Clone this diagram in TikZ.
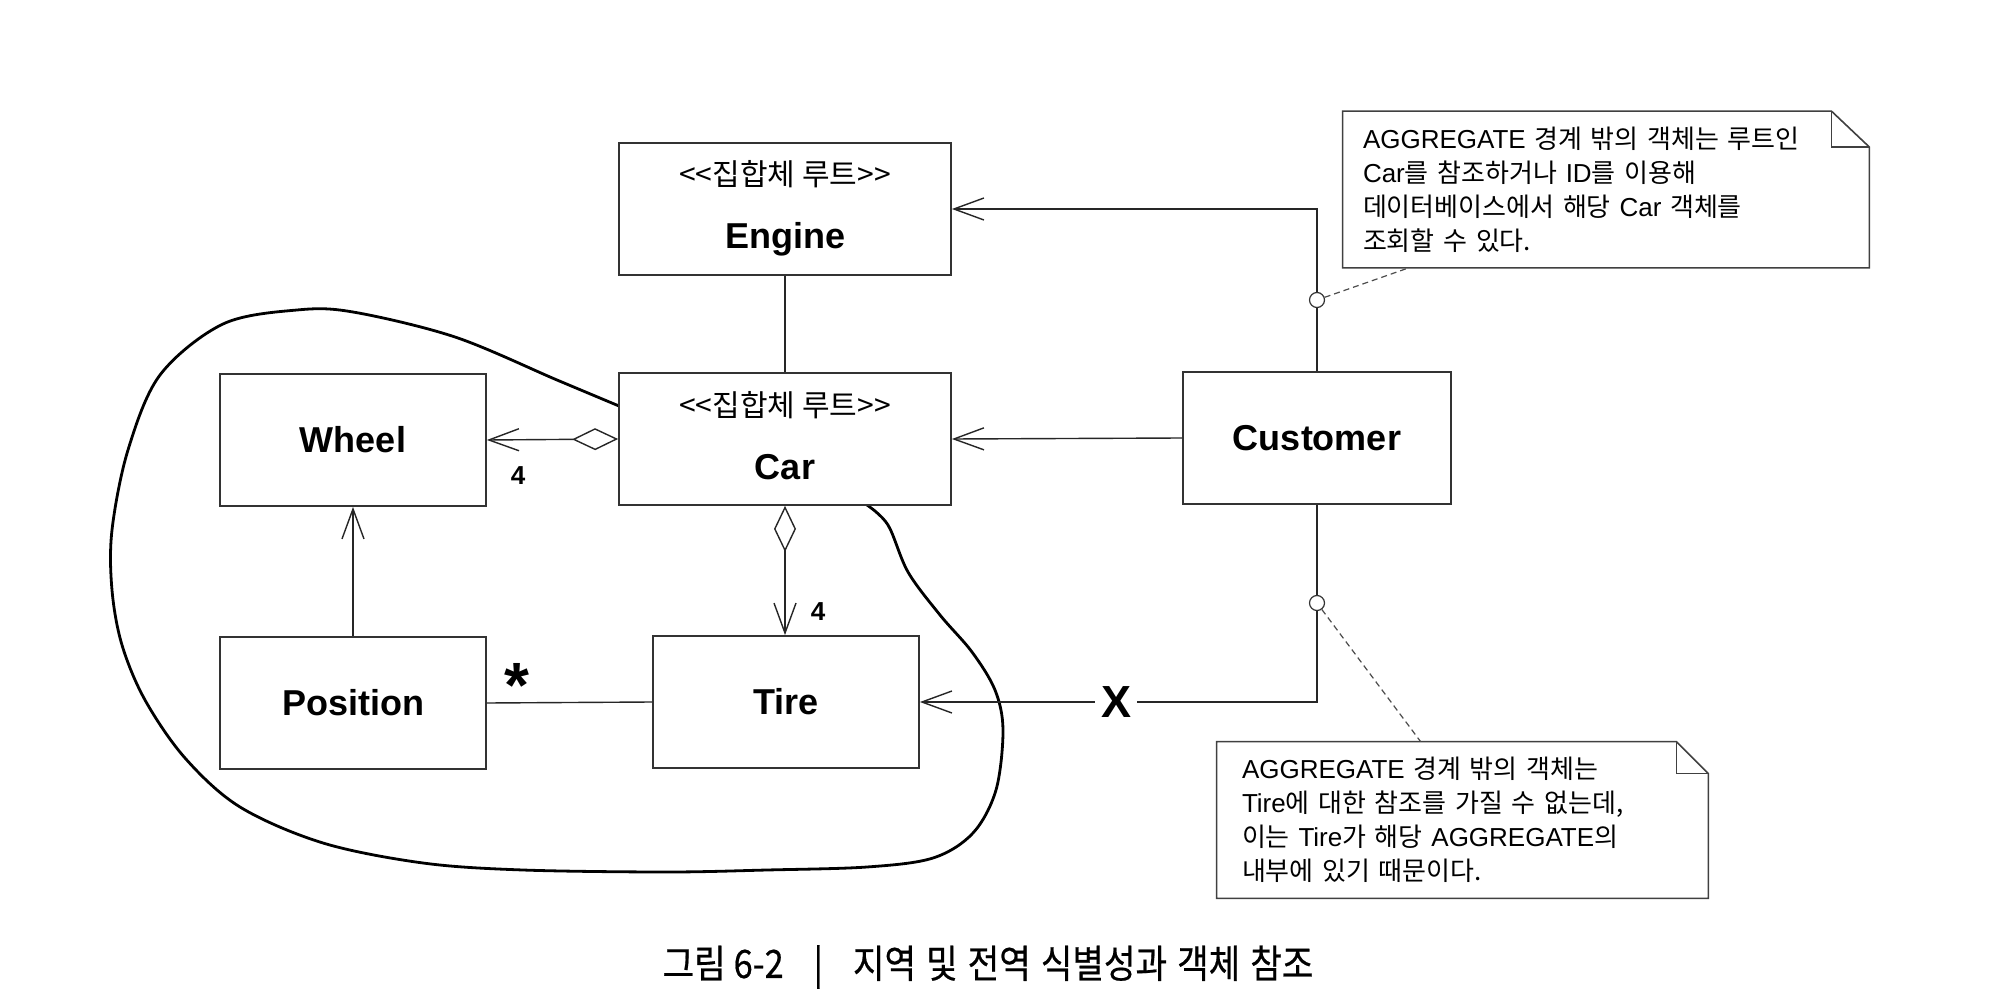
\documentclass[tikz,border=0pt]{standalone}
\usepackage{fontspec}
\setmainfont{Liberation Sans}
\newfontfamily\arial{Liberation Sans}
\newfontfamily\krfont{Noto Sans CJK KR}
\newfontfamily\capfont{Noto Sans CJK KR}[FakeStretch=0.88,FakeBold=0.5]
\usetikzlibrary{arrows.meta,calc}
\newcommand\en[1]{{\arial #1}}
\newcommand\notefont{\krfont\fontsize{13pt}{17pt}\selectfont\spaceskip=5pt plus 1pt minus 1pt\relax}
\newcommand\captionfont{\capfont\fontsize{19.5pt}{21pt}\selectfont\spaceskip=5pt\relax}
\tikzset{
  cls/.style={draw=black!80, line width=0.9pt, fill=white, inner sep=0pt,
    minimum height=66pt, font=\arial\bfseries\fontsize{18pt}{20pt}\selectfont},
  widebox/.style={cls, minimum width=166pt},
  narrowbox/.style={cls, minimum width=133pt},
  stereo/.style={font=\krfont\fontsize{15pt}{17pt}\selectfont, inner sep=0pt, anchor=base},
  cname/.style={font=\arial\bfseries\fontsize{18pt}{20pt}\selectfont, inner sep=0pt, anchor=base},
  conn/.style={draw=black!85, line width=0.7pt},
  nav/.style={conn, -{Straight Barb[length=15pt,width=11pt]}},
  agg/.style={conn, {Diamond[open,length=23pt,width=11pt]}-{Straight Barb[length=15pt,width=11pt]}},
  mult/.style={font=\arial\bfseries\fontsize{13pt}{15pt}\selectfont, inner sep=0pt},
  notebox/.style={inner ysep=0pt, minimum height=78pt, align=left, font=\notefont},
  noteline/.style={draw=black!75, line width=0.8pt},
  pinc/.style={circle, draw=black!80, line width=0.6pt, fill=white, minimum size=7.5pt, inner sep=0pt},
  notelink/.style={draw=black!70, line width=0.6pt, dash pattern=on 3pt off 2pt},
  boundary/.style={draw=black, line width=1.4pt},
}
\begin{document}
\begin{tikzpicture}[x=0.5pt,y=-0.5pt]
\fill[white] (0,0) rectangle (1993,1000);
\useasboundingbox (0,0) rectangle (1993,1000);

% aggregate boundary
\draw[boundary] plot[smooth, tension=0.55] coordinates {
  (619,406) (557,380) (455,337) (353,312) (297,310) (223,324) (160,375)
  (128,450) (112,530) (112,590) (122,645) (145,700) (185,758) (240,807)
  (323,843) (423,863) (523,870) (667,872) (767,870) (867,867) (933,858)
  (973,833) (996,790) (1003,730) (995,690) (972,652) (940,615) (908,572)
  (888,525) (867,505)};

% classes
\node[widebox] (engine) at (785,209) {};
\node[stereo] (engst) at (785,186) {<<집합체 루트>>};
\node[cname] (engname) at (785,249) {Engine};

\node[widebox] (car) at (785,439) {};
\node[stereo] (carst) at (785,416) {<<집합체 루트>>};
\node[cname] (carname) at (785,479) {Car};

\node[narrowbox] (wheel) at (353,440) {Wheel};
\node[narrowbox] (position) at (353,703) {Position};
\node[narrowbox] (tire) at (786,702) {Tire};
\node[cls, minimum width=134pt] (cust) at (1317,438) {Customer};

% connectors
\draw[conn] (engine.south) -- (car.north);
\draw[agg] (car.west) -- (wheel.east);
\draw[agg] (car.south) -- (car.south |- tire.north);
\draw[nav] (position.north) -- (wheel.south);
\draw[conn] (position.east) -- (tire.west);
\draw[nav] (cust.west) -- (car.east);
\draw[nav] (cust.north) |- (engine.east);
\draw[nav] (cust.south) |- node[pos=0.753, fill=white, inner xsep=3pt, inner ysep=0pt,
  font=\arial\bfseries\fontsize{22.5pt}{24pt}\selectfont] (xmark) {X} (tire.east);

% multiplicities
\node[mult] (m1) at (518,476) {4};
\node[mult] (m2) at (818,612) {4};
\node[font=\arial\bfseries\fontsize{32pt}{32pt}\selectfont, inner sep=0pt, anchor=base] (star) at (517,707) {*};

% notes
\node[notebox, text width=243pt, inner xsep=10pt] (n1) at (1606,189.5)
  {\en{AGGREGATE} 경계 밖의 객체는 루트인\\\en{Car}를 참조하거나 \en{ID}를 이용해\\데이터베이스에서 해당 \en{Car} 객체를\\조회할 수 있다.};
\draw[noteline] (n1.south west) -- (n1.north west) -- ($(n1.north east)+(-19pt,0)$)
  -- ($(n1.north east)+(0,-18pt)$) -- (n1.south east) -- cycle;
\draw[noteline] ($(n1.north east)+(-19pt,0)$) |- ($(n1.north east)+(0,-18pt)$);

\node[notebox, text width=220.5pt, inner xsep=12.5pt] (n2) at (1462.5,820)
  {\en{AGGREGATE} 경계 밖의 객체는\\\en{Tire}에 대한 참조를 가질 수 없는데,\\이는 \en{Tire}가 해당 \en{AGGREGATE}의\\내부에 있기 때문이다.};
\draw[noteline] (n2.south west) -- (n2.north west) -- ($(n2.north east)+(-16pt,0)$)
  -- ($(n2.north east)+(0,-16pt)$) -- (n2.south east) -- cycle;
\draw[noteline] ($(n2.north east)+(-16pt,0)$) |- ($(n2.north east)+(0,-16pt)$);

% note anchors
\node[pinc] (k1) at (1317,300) {};
\node[pinc] (k2) at (1317,603) {};
\draw[notelink] (k1) -- ($(n1.south west)+(33pt,0)$);
\draw[notelink] (k2) -- ($(n2.north west)+(102pt,0)$);

% caption
\node[font=\captionfont, inner sep=0pt] (cap) at (988,967)
  {그림\hspace{4pt}6-2\hspace{15pt}|\hspace{15pt}지역 및 전역 식별성과 객체 참조};
\end{tikzpicture}
\end{document}
